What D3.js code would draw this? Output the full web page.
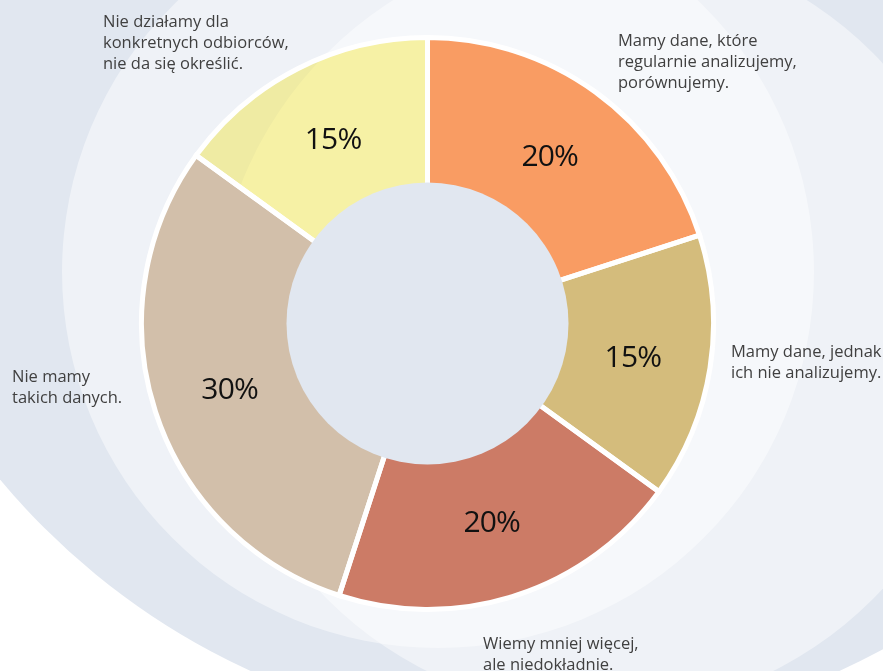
<!DOCTYPE html>
<html>
<head>
<meta charset="utf-8">
<script src="https://cdn.jsdelivr.net/npm/d3@7"></script>
<style>
  html, body { margin: 0; padding: 0; background: #ffffff; overflow: hidden; }
  svg { display: block; }
</style>
</head>
<body>
<svg id="chart" width="883" height="671"></svg>
<script>
// ---- data ----
const categories = [
  "Mamy dane, które regularnie analizujemy, porównujemy.",
  "Mamy dane, jednak ich nie analizujemy.",
  "Wiemy mniej więcej, ale niedokładnie.",
  "Nie mamy takich danych.",
  "Nie działamy dla konkretnych odbiorców, nie da się określić."
];
const shares = [20, 15, 20, 30, 15];
const categoryLines = [
  ["Mamy dane, które", "regularnie analizujemy,", "porównujemy."],
  ["Mamy dane, jednak", "ich nie analizujemy."],
  ["Wiemy mniej więcej,", "ale niedokładnie."],
  ["Nie mamy", "takich danych."],
  ["Nie działamy dla", "konkretnych odbiorców,", "nie da się określić."]
];
const sliceColors = ["#F99C63", "#D4BC7C", "#CC7B66", "#D2BFAA", "#FFF8A8"];

// ---- layout ----
const W = 883, H = 671;
const cx = 427.5, cy = 323.5;
const rOuter = 286, rInner = 136, rHole = 141, rLabel = 208;
// first baseline of each category caption (same order as categories)
const captionAnchors = [
  { x: 618, y: 46 },
  { x: 731, y: 357 },
  { x: 483, y: 649 },
  { x: 12,  y: 382 },
  { x: 103, y: 27 }
];
const captionLineHeight = 21;

const svg = d3.select("#chart");

// backdrop: a large pale-blue disc with two translucent white discs over it
svg.append("rect").attr("width", W).attr("height", H).attr("fill", "#ffffff");
const backdrop = svg.append("g");
backdrop.append("circle").attr("cx", 545).attr("cy", 26).attr("r", 709).attr("fill", "#E1E7F0");
backdrop.append("circle").attr("cx", 438).attr("cy", 272).attr("r", 376)
  .attr("fill", "#ffffff").attr("fill-opacity", 0.46);
backdrop.append("circle").attr("cx", 600).attr("cy", 326).attr("r", 386)
  .attr("fill", "#ffffff").attr("fill-opacity", 0.46);

// donut
const pie = d3.pie().sort(null).value(d => d).startAngle(0).endAngle(2 * Math.PI);
const arcs = pie(shares);
const arc = d3.arc().innerRadius(rInner).outerRadius(rOuter);
const labelArc = d3.arc().innerRadius(rLabel).outerRadius(rLabel);

const donut = svg.append("g").attr("transform", `translate(${cx},${cy})`);

donut.selectAll("path.slice")
  .data(arcs)
  .join("path")
  .attr("class", "slice")
  .attr("d", arc)
  .attr("fill", (d, i) => sliceColors[i])
  .style("mix-blend-mode", (d, i) => i === 4 ? "multiply" : "normal");

donut.selectAll("path.edge")
  .data(arcs)
  .join("path")
  .attr("class", "edge")
  .attr("d", arc)
  .attr("fill", "none")
  .attr("stroke", "#ffffff")
  .attr("stroke-width", 5)
  .attr("stroke-linejoin", "miter");

donut.append("circle").attr("r", rHole).attr("fill", "#E1E7F0");

donut.selectAll("text.pct")
  .data(arcs)
  .join("text")
  .attr("class", "pct")
  .attr("transform", d => `translate(${labelArc.centroid(d)})`)
  .attr("text-anchor", "middle")
  .attr("dy", "0.36em")
  .attr("font-family", "'Open Sans', 'Noto Sans', sans-serif")
  .attr("font-size", 30)
  .attr("letter-spacing", -0.8)
  .attr("fill", "#111111")
  .text(d => d.data + "%");

// category captions
const captions = svg.append("g")
  .attr("font-family", "'Open Sans', 'Noto Sans', sans-serif")
  .attr("font-size", 16.5)
  .attr("fill", "#404040");

captions.selectAll("text")
  .data(categories)
  .join("text")
  .attr("x", (d, i) => captionAnchors[i].x)
  .attr("y", (d, i) => captionAnchors[i].y)
  .each(function (d, i) {
    d3.select(this).selectAll("tspan")
      .data(categoryLines[i])
      .join("tspan")
      .attr("x", captionAnchors[i].x)
      .attr("dy", (t, j) => j === 0 ? 0 : captionLineHeight)
      .text(t => t);
  });
</script>
</body>
</html>
